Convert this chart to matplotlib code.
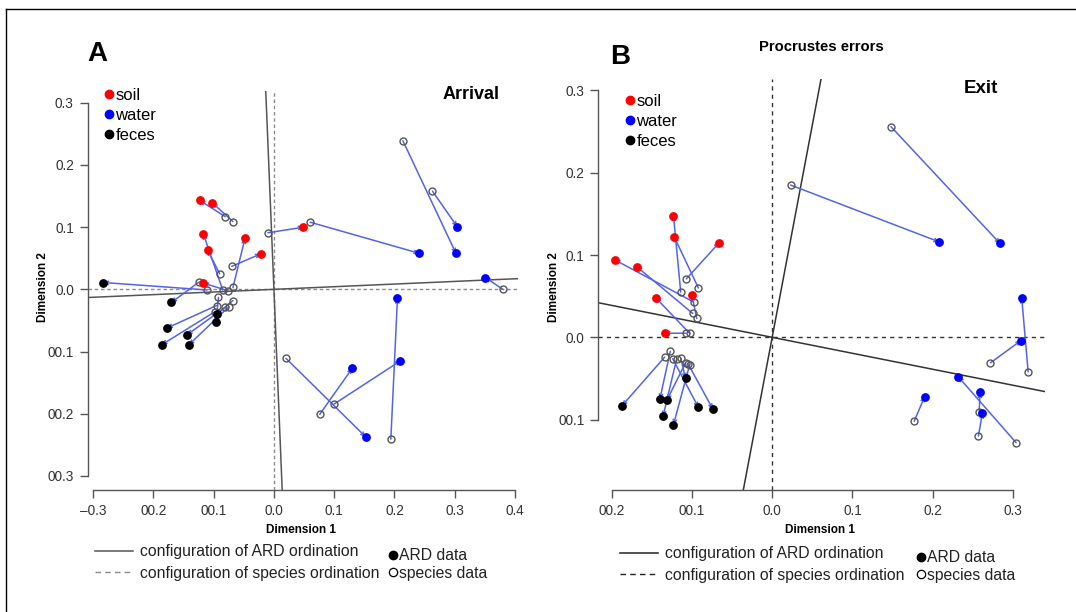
import matplotlib
matplotlib.use("Agg")
import matplotlib.pyplot as plt
from matplotlib.lines import Line2D

plt.rcParams['font.family'] = ['Liberation Sans', 'DejaVu Sans']

W, H = 1076, 612

# ---------- panel A: Arrival ----------
a_soil_ard_x = [-0.123, -0.102, -0.117, -0.110, -0.048, -0.022, -0.117, 0.049]
a_soil_ard_y = [0.143, 0.139, 0.089, 0.063, 0.082, 0.057, 0.010, 0.100]
a_soil_sp_x = [-0.081, -0.068, -0.085, -0.090, -0.068, -0.070, -0.077, -0.010]
a_soil_sp_y = [0.117, 0.109, -0.001, 0.025, 0.003, 0.037, -0.002, 0.091]

a_water_ard_x = [0.302, 0.304, 0.241, 0.351, 0.152, 0.130, 0.210, 0.205]
a_water_ard_y = [0.058, 0.101, 0.058, 0.019, -0.237, -0.127, -0.115, -0.014]
a_water_sp_x = [0.214, 0.263, 0.060, 0.380, 0.020, 0.076, 0.099, 0.194]
a_water_sp_y = [0.239, 0.158, 0.108, 0.000, -0.111, -0.201, -0.185, -0.241]

a_feces_ard_x = [-0.283, -0.170, -0.177, -0.186, -0.144, -0.141, -0.095, -0.096]
a_feces_ard_y = [0.011, -0.021, -0.062, -0.089, -0.073, -0.089, -0.040, -0.053]
a_feces_sp_x = [-0.111, -0.124, -0.095, -0.098, -0.081, -0.075, -0.068, -0.092]
a_feces_sp_y = [-0.001, 0.012, -0.026, -0.036, -0.029, -0.028, -0.018, -0.013]

a_slope = 0.0425  # rotation of the ARD configuration axes

# ---------- panel B: Exit ----------
b_soil_ard_x = [-0.123, -0.122, -0.066, -0.196, -0.169, -0.100, -0.145, -0.134]
b_soil_ard_y = [0.148, 0.122, 0.115, 0.094, 0.086, 0.051, 0.048, 0.005]
b_soil_sp_x = [-0.114, -0.092, -0.107, -0.098, -0.099, -0.094, -0.103, -0.108]
b_soil_sp_y = [0.055, 0.060, 0.071, 0.043, 0.029, 0.023, 0.005, 0.005]

b_water_ard_x = [0.208, 0.284, 0.311, 0.310, 0.232, 0.259, 0.262, 0.190]
b_water_ard_y = [0.116, 0.114, 0.048, -0.004, -0.048, -0.067, -0.092, -0.072]
b_water_sp_x = [0.023, 0.148, 0.319, 0.272, 0.304, 0.258, 0.257, 0.177]
b_water_sp_y = [0.185, 0.256, -0.042, -0.031, -0.128, -0.091, -0.120, -0.102]

b_feces_ard_x = [-0.187, -0.140, -0.131, -0.136, -0.123, -0.108, -0.092, -0.074]
b_feces_ard_y = [-0.083, -0.075, -0.076, -0.096, -0.106, -0.050, -0.085, -0.087]
b_feces_sp_x = [-0.134, -0.127, -0.108, -0.119, -0.103, -0.114, -0.124, -0.105]
b_feces_sp_y = [-0.024, -0.017, -0.031, -0.026, -0.034, -0.025, -0.026, -0.032]

b_slope = -0.194

a_xticks = [-0.3, -0.2, -0.1, 0.0, 0.1, 0.2, 0.3, 0.4]
a_xlabels = ["\u20130.3", "00.2", "00.1", "0.0", "0.1", "0.2", "0.3", "0.4"]
a_yticks = [-0.3, -0.2, -0.1, 0.0, 0.1, 0.2, 0.3]
a_ylabels = ["00.3", "00.2", "00.1", "0.0", "0.1", "0.2", "0.3"]
b_xticks = [-0.2, -0.1, 0.0, 0.1, 0.2, 0.3]
b_xlabels = ["00.2", "00.1", "0.0", "0.1", "0.2", "0.3"]
b_yticks = [-0.1, 0.0, 0.1, 0.2, 0.3]
b_ylabels = ["00.1", "0.0", "0.1", "0.2", "0.3"]

ARROW = "#5364e8"
AXC = "#555555"


def fx(px):
    return px / W


def fy(py):
    return 1 - py / H


def add_axes(left, top, right, bottom):
    return fig.add_axes([fx(left), fy(bottom), (right - left) / W, (bottom - top) / H])


def draw_panel(ax, groups, slope, solid_c, dash_c, dash_style):
    ax.axhline(0, color=dash_c, lw=1, ls=dash_style, zorder=1)
    ax.axvline(0, color=dash_c, lw=1, ls=dash_style, zorder=1)
    ax.axline((0, 0), slope=slope, color=solid_c, lw=1.1, zorder=1)
    ax.axline((0, 0), slope=-1 / slope, color=solid_c, lw=1.1, zorder=1)
    for color, ard_x, ard_y, sp_x, sp_y in groups:
        for x0, y0, x1, y1 in zip(sp_x, sp_y, ard_x, ard_y):
            ax.annotate("", xy=(x1, y1), xytext=(x0, y0),
                        arrowprops=dict(arrowstyle="->", color=ARROW, lw=1.1,
                                        mutation_scale=6, shrinkA=0, shrinkB=0),
                        zorder=2)
        ax.plot(sp_x, sp_y, "o", mfc="none", mec="#555555", ms=5, mew=1, zorder=3)
        ax.plot(ard_x, ard_y, "o", color=color, ms=5.3, zorder=4)


def style_axes(ax, xlim, ylim, xticks, xlabels, yticks, ylabels):
    ax.set_xlim(*xlim)
    ax.set_ylim(*ylim)
    for s in ["top", "right"]:
        ax.spines[s].set_visible(False)
    for s in ["left", "bottom"]:
        ax.spines[s].set_color(AXC)
        ax.spines[s].set_linewidth(1)
    ax.spines["bottom"].set_bounds(xticks[0], xticks[-1])
    ax.spines["left"].set_bounds(yticks[0], yticks[-1])
    ax.set_xticks(xticks)
    ax.set_xticklabels(xlabels)
    ax.set_yticks(yticks)
    ax.set_yticklabels(ylabels)
    ax.tick_params(direction="out", length=6, width=1, color=AXC,
                   labelsize=9.8, labelcolor="#333333", pad=4)
    ax.patch.set_alpha(0)


def group_legend(ax, x, y):
    handles = [Line2D([], [], ls="none", marker="o", color=c, ms=6)
               for c in ["red", "blue", "black"]]
    ax.legend(handles, ["soil", "water", "feces"], loc="upper left",
              bbox_to_anchor=(fx(x), fy(y)), bbox_transform=fig.transFigure,
              frameon=False, fontsize=12, handlelength=0.5, handletextpad=0.12,
              labelspacing=0.3, borderpad=0, borderaxespad=0)


def bottom_legends(x1, x2, y, solid_c, dash_c):
    h1 = [Line2D([], [], color=solid_c, lw=1.1),
          Line2D([], [], color=dash_c, lw=1, ls=(0, (4, 3)))]
    fig.legend(h1, ["configuration of ARD ordination",
                    "configuration of species ordination"],
               loc="upper left", bbox_to_anchor=(fx(x1), fy(y)),
               frameon=False, fontsize=11.3, handlelength=2.4, handletextpad=0.45,
               labelspacing=0.42, borderpad=0, borderaxespad=0,
               labelcolor="#222222")
    h2 = [Line2D([], [], ls="none", marker="o", color="black", ms=6),
          Line2D([], [], ls="none", marker="o", mfc="none", mec="black", ms=6, mew=0.9)]
    fig.legend(h2, ["ARD data", "species data"],
               loc="upper left", bbox_to_anchor=(fx(x2), fy(y + 4)),
               frameon=False, fontsize=11.3, handlelength=0.6, handletextpad=0.1,
               labelspacing=0.18, borderpad=0, borderaxespad=0,
               labelcolor="#222222")


fig = plt.figure(figsize=(W / 100, H / 100), dpi=100)

# ---- panel A ----
axA = add_axes(87.7, 91, 518, 490)
draw_panel(axA,
           [("red", a_soil_ard_x, a_soil_ard_y, a_soil_sp_x, a_soil_sp_y),
            ("blue", a_water_ard_x, a_water_ard_y, a_water_sp_x, a_water_sp_y),
            ("black", a_feces_ard_x, a_feces_ard_y, a_feces_sp_x, a_feces_sp_y)],
           a_slope, "#555555", "#8a8a8a", (0, (2.5, 2)))
style_axes(axA, (-0.309, 0.405), (-0.3227, 0.319),
           a_xticks, a_xlabels, a_yticks, a_ylabels)
group_legend(axA, 105, 88)
axA.text(0.958, 0.99, "Arrival", transform=axA.transAxes, ha="right", va="center",
         fontsize=13, fontweight="bold")

# ---- panel B ----
axB = add_axes(598.3, 79.3, 1045, 490)
draw_panel(axB,
           [("red", b_soil_ard_x, b_soil_ard_y, b_soil_sp_x, b_soil_sp_y),
            ("blue", b_water_ard_x, b_water_ard_y, b_water_sp_x, b_water_sp_y),
            ("black", b_feces_ard_x, b_feces_ard_y, b_feces_sp_x, b_feces_sp_y)],
           b_slope, "#333333", "#333333", (0, (3, 3)))
style_axes(axB, (-0.2167, 0.340), (-0.1855, 0.3135),
           b_xticks, b_xlabels, b_yticks, b_ylabels)
group_legend(axB, 626, 94)
axB.text(0.895, 0.978, "Exit", transform=axB.transAxes, ha="right", va="center",
         fontsize=13.5, fontweight="bold")

# ---- titles / labels ----
fig.text(fx(97), fy(54), "A", fontsize=20, fontweight="bold", ha="center", va="center")
fig.text(fx(620), fy(57), "B", fontsize=20, fontweight="bold", ha="center", va="center")
fig.text(fx(821), fy(47), "Procrustes errors", fontsize=10.7, fontweight="bold",
         ha="center", va="center")
fig.text(fx(301), fy(530), "Dimension 1", fontsize=8.5, fontweight="bold",
         ha="center", va="center")
fig.text(fx(820), fy(530), "Dimension 1", fontsize=8.5, fontweight="bold",
         ha="center", va="center")
fig.text(fx(43), fy(287), "Dimension 2", fontsize=8.5, fontweight="bold",
         ha="center", va="center", rotation=90)
fig.text(fx(554), fy(287), "Dimension 2", fontsize=8.5, fontweight="bold",
         ha="center", va="center", rotation=90)

bottom_legends(95, 388, 544, "#555555", "#8a8a8a")
bottom_legends(620, 916, 546, "#222222", "#222222")

# outer frame (top and left edges only)
fig.add_artist(Line2D([fx(5.5), fx(5.5)], [0, fy(9)], color="black", lw=1))
fig.add_artist(Line2D([fx(5.5), 1], [fy(9), fy(9)], color="black", lw=1))

fig.savefig("out.png", dpi=100)
